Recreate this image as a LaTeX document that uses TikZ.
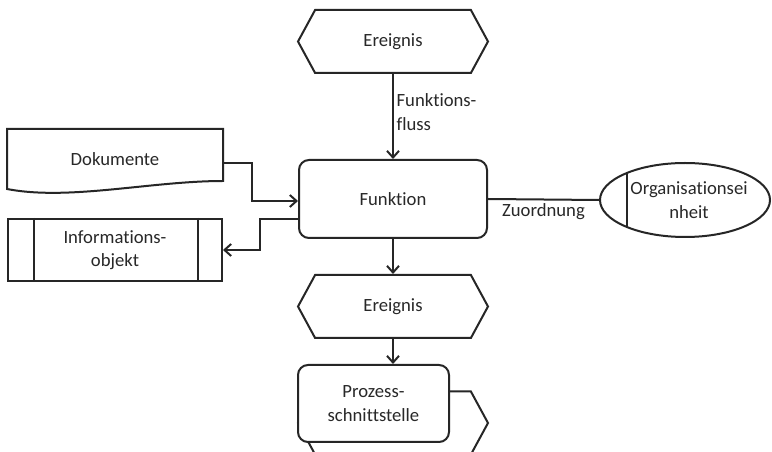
\documentclass[tikz,border=0pt]{standalone}
\usepackage{fontspec}
\setmainfont{Carlito}[Ligatures={NoCommon,NoContextual}]
\usepackage{tikz}
\usetikzlibrary{arrows.meta}
\usetikzlibrary{shapes.symbols,shapes.geometric}
\usepackage{xcolor}
\definecolor{ColLine}{RGB}{38,38,38}
\definecolor{ColText}{RGB}{40,40,40}
\tikzstyle{NodeBase}=[draw=ColLine,fill=white,line width=1.5pt,inner sep=0pt,text=ColText,
align=center,font=\fontsize{14}{17.5}\selectfont]
\tikzstyle{NodeEvent}=[NodeBase,signal,signal to=west and east,signal pointer angle=123,
minimum width=142.5pt,minimum height=47.25pt]
\tikzstyle{NodeFunction}=[NodeBase,rectangle,rounded corners=7.5pt,minimum width=141pt,
minimum height=58.5pt]
\tikzstyle{NodeDoc}=[NodeBase,draw=none,fill=none,rectangle,minimum width=160.5pt,minimum height=43.5pt]
\tikzstyle{NodeInfo}=[NodeBase,rectangle,minimum width=160.5pt,minimum height=46.5pt]
\tikzstyle{NodeOrg}=[NodeBase,ellipse,minimum width=127.5pt,minimum height=55.5pt]
\tikzstyle{EdgeFlow}=[ColLine,line width=1.5pt,-{Straight Barb[length=5pt,width=9pt]}]
\tikzstyle{EdgeLink}=[ColLine,line width=1.5pt]
\tikzstyle{Label}=[text=ColText,inner sep=2pt,align=left,font=\fontsize{14}{17.5}\selectfont]

\begin{document}
\begin{tikzpicture}[x=0.75pt,y=-0.75pt]
        \useasboundingbox[fill=white](0,0)rectangle(772,452);
        \clip(0,0)rectangle(772,452);
        \node[NodeEvent](ev1)at(393,41.5){Ereignis};
        \node[NodeFunction](fn)at(393,199){Funktion};
        \node[NodeEvent](ev2)at(393,306.5){Ereignis};
        \node[NodeEvent](prochex)at(393,423){};
        \node[NodeFunction,minimum width=113.25pt,minimum height=57.75pt](proc)at(373.5,403.5){Prozess-\\schnittstelle};
        \node[NodeDoc](doc)at(115,159){Dokumente};
        \draw[EdgeLink](doc.south west)..controls +(62,12) and +(-72,0)..([yshift=6pt]doc.south east)
            --(doc.north east)--(doc.north west)--cycle;
        \node[NodeInfo](info)at(115,250){Informations-\\objekt};
        \draw[EdgeLink]([xshift=20.25pt]info.north west)--([xshift=20.25pt]info.south west);
        \draw[EdgeLink]([xshift=-18.75pt]info.north east)--([xshift=-18.75pt]info.south east);
        \node[NodeOrg](org)at(685,200){};
        \draw[EdgeLink]([shift={(-43.5pt,20pt)}]org.center)--([shift={(-43.5pt,-20pt)}]org.center);
        \node[Label,align=center](orgtext)at(689,200){Organisationsei\\nheit};
        \draw[EdgeFlow](ev1.south)--node[Label,right,pos=0.45]{Funktions-\\fluss}(fn.north);
        \draw[EdgeFlow]([yshift=-3pt]doc.east)--++(29,0)|-([yshift=-1.5pt]fn.west);
        \draw[EdgeFlow]([yshift=-15pt]fn.west)--++(-38,0)|-(info.east);
        \draw[EdgeLink](fn.east)--node[Label,below]{Zuordnung}(org.west);
        \draw[EdgeFlow](fn.south)--(ev2.north);
        \draw[EdgeFlow](ev2.south)--(ev2.south|-proc.north);
    \end{tikzpicture}
\end{document}
